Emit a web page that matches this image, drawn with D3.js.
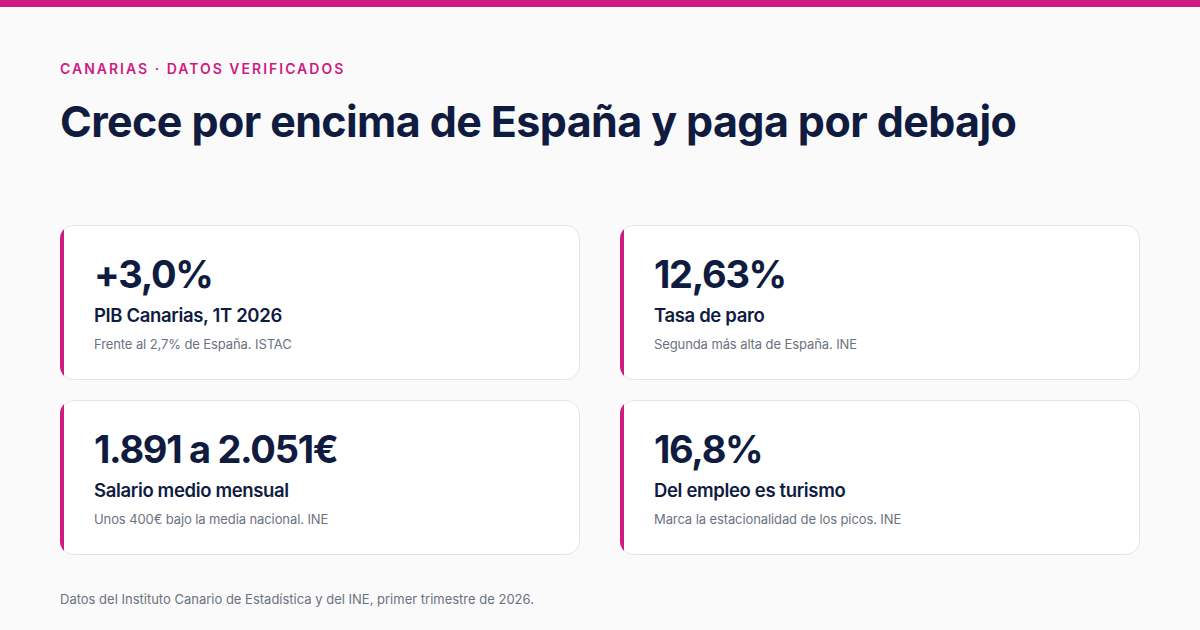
<!DOCTYPE html>
<html>
<head>
<meta charset="utf-8">
<script src="https://cdn.jsdelivr.net/npm/d3@7"></script>
<style>
  html, body { margin: 0; padding: 0; background: #fafafa; }
  svg { display: block; font-family: Inter, "Noto Sans", sans-serif; }
</style>
</head>
<body>
<svg id="chart" width="1200" height="630"></svg>
<script>
// --- Data -------------------------------------------------------------
const eyebrow = 'CANARIAS · DATOS VERIFICADOS';
const title = 'Crece por encima de España y paga por debajo';
const footnote = 'Datos del Instituto Canario de Estadística y del INE, primer trimestre de 2026.';

const figures = ['+3,0%', '12,63%', '1.891 a 2.051€', '16,8%'];
const labels = ['PIB Canarias, 1T 2026', 'Tasa de paro', 'Salario medio mensual', 'Del empleo es turismo'];
const notes = [
  'Frente al 2,7% de España. ISTAC',
  'Segunda más alta de España. INE',
  'Unos 400€ bajo la media nacional. INE',
  'Marca la estacionalidad de los picos. INE',
];

const cards = figures.map((f, i) => ({
  figure: f, label: labels[i], note: notes[i], col: i % 2, row: Math.floor(i / 2),
}));

// --- Layout -----------------------------------------------------------
const W = 1200, H = 630;
const accent = '#cf1a82';
const ink = '#0f1c3f';

const svg = d3.select('#chart');

svg.append('rect').attr('width', W).attr('height', H).attr('fill', '#fafafa');
svg.append('rect').attr('width', W).attr('height', 7).attr('fill', accent);

svg.append('text')
  .attr('x', 60).attr('y', 74)
  .attr('fill', accent)
  .attr('font-size', 14).attr('font-weight', 600)
  .attr('letter-spacing', 2)
  .text(eyebrow);

svg.append('text')
  .attr('x', 60).attr('y', 137)
  .attr('fill', ink)
  .attr('font-size', 43).attr('font-weight', 700)
  .attr('letter-spacing', -0.6)
  .text(title);

svg.append('text')
  .attr('x', 60).attr('y', 604)
  .attr('fill', '#6b7280')
  .attr('font-size', 13)
  .text(footnote);

// grid of cards: two columns, two rows
const x = d3.scaleBand().domain([0, 1]).range([60, 1140]).paddingInner(40 / 560);
const y = d3.scaleBand().domain([0, 1]).range([225, 555]).paddingInner(20 / 175);

const r = 14;
const defs = svg.append('defs');

const g = svg.selectAll('g.card')
  .data(cards)
  .join('g')
  .attr('class', 'card')
  .attr('transform', d => `translate(${x(d.col)},${y(d.row)})`);

g.each(function (d, i) {
  defs.append('clipPath').attr('id', `clip-${i}`)
    .append('rect')
    .attr('width', x.bandwidth()).attr('height', y.bandwidth())
    .attr('rx', r);
});

g.append('rect')
  .attr('width', x.bandwidth()).attr('height', y.bandwidth())
  .attr('rx', r)
  .attr('fill', '#ffffff');

g.append('rect')
  .attr('x', 0.5).attr('y', 0.5)
  .attr('width', x.bandwidth() - 1).attr('height', y.bandwidth() - 1)
  .attr('rx', r - 0.5)
  .attr('fill', 'none')
  .attr('stroke', '#e3e3ee');

// left accent, clipped to the rounded card shape
g.append('rect')
  .attr('clip-path', (d, i) => `url(#clip-${i})`)
  .attr('width', 4).attr('height', y.bandwidth())
  .attr('fill', accent);

g.append('text')
  .attr('x', 34).attr('y', 63)
  .attr('fill', ink)
  .attr('font-size', 38).attr('font-weight', 700)
  .attr('letter-spacing', -1.3)
  .text(d => d.figure);

g.append('text')
  .attr('x', 34).attr('y', 97)
  .attr('fill', ink)
  .attr('font-size', 18.5).attr('font-weight', 600)
  .attr('letter-spacing', -0.35)
  .text(d => d.label);

g.append('text')
  .attr('x', 34).attr('y', 124)
  .attr('fill', '#6b7280')
  .attr('font-size', 13)
  .attr('letter-spacing', -0.1)
  .text(d => d.note);
</script>
</body>
</html>
